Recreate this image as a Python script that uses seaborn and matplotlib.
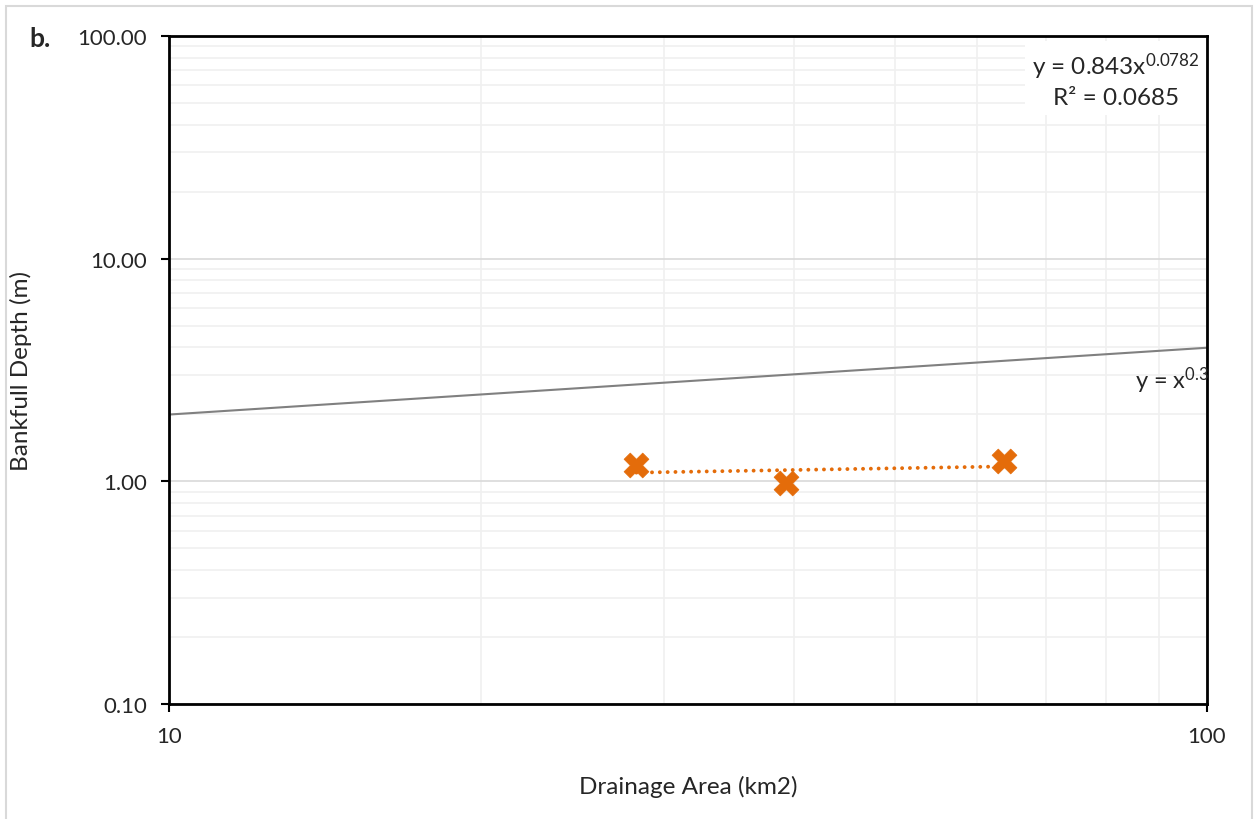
import matplotlib
matplotlib.use("Agg")
import matplotlib.pyplot as plt
from matplotlib.patches import Rectangle
from matplotlib.ticker import LogLocator, FixedLocator, NullFormatter
import seaborn as sns
import pandas as pd
import numpy as np

# field sites: drainage area (km2) vs bankfull depth (m)
drainage_area = [28.2, 39.3, 63.8]
bankfull_depth = [1.18, 0.98, 1.23]

# Excel power trendline, as printed on the chart
trend_a = 0.843
trend_b = 0.0782
trend_r2 = 0.0685

# reference curve y = x^0.3 over the full x range
ref_exp = 0.3
ref_x = [10, 100]

sns.set_theme(style="white")
plt.rcParams["font.family"] = ["Lato", "DejaVu Sans"]
plt.rcParams["mathtext.default"] = "regular"

orange = "#E46C0A"

fig = plt.figure(figsize=(12.54, 8.2), dpi=100)
ax = fig.add_axes([0.1348, 0.1402, 0.8277, 0.8147])

# light frame around the figure (like the Excel chart area)
fig.patches.append(Rectangle((0.0048, -0.01), 0.994, 1.0015, transform=fig.transFigure,
                             fill=False, edgecolor="#d9d9d9", linewidth=1.5))

ref_df = pd.DataFrame({"x": ref_x, "y": [v ** ref_exp for v in ref_x]})
sns.lineplot(data=ref_df, x="x", y="y", ax=ax, color="#808080", linewidth=1.5)

tx = np.array([min(drainage_area), max(drainage_area)])
trend_df = pd.DataFrame({"x": tx, "y": trend_a * tx ** trend_b})
sns.lineplot(data=trend_df, x="x", y="y", ax=ax, color=orange, linewidth=2.8,
             linestyle=(0, (0.01, 2.0)), dash_capstyle="round")

pts = pd.DataFrame({"area": drainage_area, "depth": bankfull_depth})
sns.scatterplot(data=pts, x="area", y="depth", ax=ax, marker="X", s=320,
                color=orange, edgecolor=orange, linewidth=0.5, zorder=5)

ax.set_xscale("log")
ax.set_yscale("log")
ax.set_xlim(10, 100)
ax.set_ylim(0.1, 100)

ax.xaxis.set_major_locator(FixedLocator([10, 100]))
ax.set_xticklabels(["10", "100"])
ax.yaxis.set_major_locator(FixedLocator([0.1, 1, 10, 100]))
ax.set_yticklabels(["0.10", "1.00", "10.00", "100.00"])
ax.xaxis.set_minor_locator(LogLocator(base=10, subs=np.arange(2, 10)))
ax.yaxis.set_minor_locator(LogLocator(base=10, subs=np.arange(2, 10)))
ax.xaxis.set_minor_formatter(NullFormatter())
ax.yaxis.set_minor_formatter(NullFormatter())

ax.grid(True, which="major", color="#d9d9d9", linewidth=1.2)
ax.grid(True, which="minor", color="#f0f0f0", linewidth=1.2)
ax.set_axisbelow(True)

ax.tick_params(which="major", direction="out", length=6, width=1.5, color="black",
               labelsize=16, pad=10, left=True, bottom=True)
ax.tick_params(which="minor", length=0)
for s in ax.spines.values():
    s.set_color("black")
    s.set_linewidth(2)

ax.set_xlabel("Drainage Area (km2)", fontsize=17.5)
ax.set_ylabel("Bankfull Depth (m)", fontsize=17.5)
ax.yaxis.set_label_coords(-0.132, 0.5)
ax.xaxis.set_label_coords(0.5, -0.106)

ax.text(0.9306, 0.485, "y = x$^{%s}$" % ref_exp, transform=ax.transAxes,
        fontsize=17, ha="left", va="center")

ax.text(0.912, 0.935, "y = %sx$^{%s}$\nR² = %s" % (trend_a, trend_b, trend_r2),
        transform=ax.transAxes, fontsize=17.5, ha="center", va="center",
        linespacing=1.35,
        bbox=dict(facecolor="white", edgecolor="none", pad=5))

fig.text(0.032, 0.953, "b.", fontsize=19, fontweight="bold", ha="center", va="center")

fig.savefig("out.png", dpi=100)
